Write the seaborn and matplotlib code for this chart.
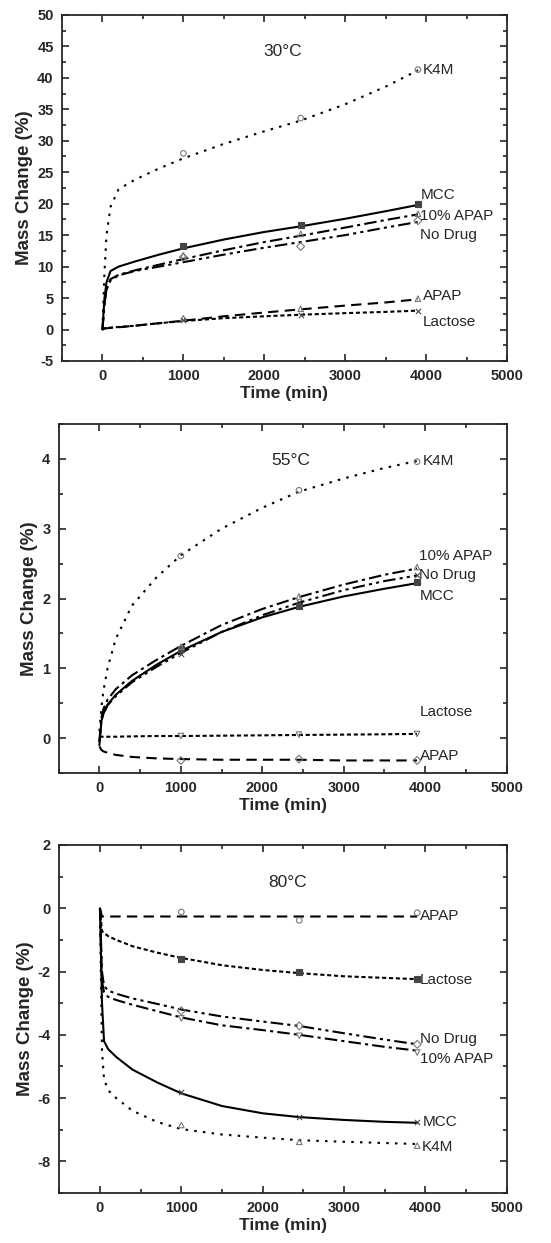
import numpy as np
import seaborn as sns
import matplotlib.pyplot as plt
from matplotlib.ticker import MultipleLocator

sns.set_style('ticks')
plt.rcParams['font.family'] = ['Liberation Sans', 'DejaVu Sans']
plt.rcParams['axes.unicode_minus'] = False

# Time grid of the fitted curves and times of the measured points
t_curve = [0, 25, 50, 100, 200, 400, 700, 1000, 1500, 2000, 2450, 3000, 3500, 3900]
t_points = [1000, 2450, 3900]

# ---- 30 C ----
k4m_30 = [0, 9, 15, 19.5, 22.3, 23.8, 25.6, 27.2, 29.5, 31.5, 33.2, 35.8, 38.6, 41.2]
mcc_30 = [0, 5, 7.5, 9.3, 10.0, 10.8, 11.9, 12.9, 14.3, 15.5, 16.4, 17.6, 18.8, 19.8]
apap10_30 = [0, 4, 6.5, 8.0, 8.7, 9.4, 10.3, 11.2, 12.6, 13.9, 14.9, 16.2, 17.4, 18.3]
nodrug_30 = [0, 4, 6.3, 7.8, 8.6, 9.3, 10.0, 10.7, 11.9, 13.0, 13.9, 15.0, 16.2, 17.1]
apap_30 = [0, 0.15, 0.2, 0.25, 0.35, 0.6, 1.0, 1.4, 2.1, 2.7, 3.2, 3.8, 4.3, 4.8]
lactose_30 = [0, 0.2, 0.25, 0.3, 0.4, 0.6, 1.0, 1.35, 1.8, 2.1, 2.35, 2.6, 2.8, 3.0]

k4m_30_pts = [28.0, 33.6, 41.3]
mcc_30_pts = [13.2, 16.6, 19.9]
apap10_30_pts = [11.8, 15.2, 18.4]
nodrug_30_pts = [11.5, 13.2, 17.3]
apap_30_pts = [1.8, 3.3, 4.9]
lactose_30_pts = [1.5, 2.3, 3.0]

# ---- 55 C ----
k4m_55 = [0.1, 0.45, 0.68, 1.0, 1.42, 1.9, 2.3, 2.62, 3.0, 3.3, 3.53, 3.72, 3.87, 3.97]
mcc_55 = [-0.1, 0.25, 0.35, 0.48, 0.62, 0.82, 1.05, 1.25, 1.52, 1.73, 1.88, 2.03, 2.14, 2.22]
apap10_55 = [-0.05, 0.3, 0.42, 0.55, 0.7, 0.9, 1.12, 1.32, 1.62, 1.85, 2.02, 2.2, 2.34, 2.43]
nodrug_55 = [-0.05, 0.25, 0.35, 0.47, 0.6, 0.8, 1.02, 1.22, 1.52, 1.76, 1.94, 2.12, 2.25, 2.33]
apap_55 = [-0.12, -0.17, -0.19, -0.21, -0.24, -0.27, -0.29, -0.3, -0.31, -0.31, -0.31, -0.32, -0.32, -0.32]
lactose_55 = [0.02, 0.02, 0.02, 0.02, 0.02, 0.025, 0.03, 0.03, 0.035, 0.04, 0.045, 0.05, 0.055, 0.06]

k4m_55_pts = [2.61, 3.55, 3.96]
mcc_55_pts = [1.27, 1.89, 2.23]
apap10_55_pts = [1.31, 2.03, 2.45]
nodrug_55_pts = [1.2, 1.95, 2.34]
apap_55_pts = [-0.32, -0.3, -0.32]
lactose_55_pts = [0.03, 0.05, 0.06]

# ---- 80 C ----
k4m_80 = [0, -4.5, -5.4, -5.75, -6.0, -6.4, -6.75, -6.98, -7.15, -7.25, -7.33, -7.38, -7.42, -7.45]
mcc_80 = [0, -3.0, -4.2, -4.45, -4.7, -5.1, -5.5, -5.85, -6.25, -6.48, -6.6, -6.69, -6.75, -6.78]
apap10_80 = [0, -2.3, -2.65, -2.8, -2.9, -3.05, -3.25, -3.45, -3.7, -3.85, -4.0, -4.2, -4.38, -4.5]
nodrug_80 = [0, -2.0, -2.45, -2.6, -2.7, -2.85, -3.02, -3.2, -3.42, -3.58, -3.72, -3.95, -4.15, -4.3]
apap_80 = [0, -0.26, -0.26, -0.26, -0.26, -0.26, -0.26, -0.26, -0.26, -0.26, -0.26, -0.26, -0.26, -0.26]
lactose_80 = [0, -0.72, -0.78, -0.88, -1.0, -1.2, -1.4, -1.57, -1.8, -1.95, -2.05, -2.15, -2.2, -2.24]

k4m_80_pts = [-6.85, -7.38, -7.5]
mcc_80_pts = [-5.8, -6.59, -6.77]
apap10_80_pts = [-3.48, -4.03, -4.56]
nodrug_80_pts = [-3.24, -3.72, -4.3]
apap_80_pts = [-0.12, -0.38, -0.14]
lactose_80_pts = [-1.59, -2.01, -2.24]

labels = ['K4M', 'MCC', '10% APAP', 'No Drug', 'APAP', 'Lactose']

# line style per formulation
styles = {
    'K4M': (0, (1.2, 3)),
    'MCC': '-',
    '10% APAP': (0, (6, 2, 1.5, 2)),
    'No Drug': (0, (6, 2, 1.5, 2, 1.5, 2)),
    'APAP': (0, (5, 3)),
    'Lactose': (0, (2, 1.3)),
}

panels = [
    {
        'title': '30°C', 'title_pos': (2230, 44.2),
        'curves': [k4m_30, mcc_30, apap10_30, nodrug_30, apap_30, lactose_30],
        'points': [k4m_30_pts, mcc_30_pts, apap10_30_pts, nodrug_30_pts, apap_30_pts, lactose_30_pts],
        'markers': ['o', 's', '^', 'D', '^', 'x'],
        'filled': [False, True, False, False, False, True],
        'label_y': [41.2, 21.3, 18.1, 15.0, 5.4, 1.2],
        'label_x': [3960, 3930, 3930, 3930, 3960, 3960],
        'ylim': (-5, 50), 'major': 5, 'minor': 2.5,
        'rect': [0.1125, 0.7096, 0.8076, 0.2784],
    },
    {
        'title': '55°C', 'title_pos': (2352, 3.98),
        'curves': [k4m_55, mcc_55, apap10_55, nodrug_55, apap_55, lactose_55],
        'points': [k4m_55_pts, mcc_55_pts, apap10_55_pts, nodrug_55_pts, apap_55_pts, lactose_55_pts],
        'markers': ['o', 's', '^', 'x', 'D', 'v'],
        'filled': [False, True, False, True, False, False],
        'label_y': [3.97, 2.04, 2.61, 2.34, -0.25, 0.37],
        'label_x': [3970, 3930, 3930, 3930, 3930, 3930],
        'ylim': (-0.5, 4.5), 'major': 1, 'minor': 0.5,
        'rect': [0.1065, 0.3781, 0.813, 0.2808],
    },
    {
        'title': '80°C', 'title_pos': (2305, 0.81),
        'curves': [k4m_80, mcc_80, apap10_80, nodrug_80, apap_80, lactose_80],
        'points': [k4m_80_pts, mcc_80_pts, apap10_80_pts, nodrug_80_pts, apap_80_pts, lactose_80_pts],
        'markers': ['^', 'x', 'v', 'D', 'o', 's'],
        'filled': [False, True, False, False, False, True],
        'label_y': [-7.56, -6.77, -4.77, -4.14, -0.24, -2.26],
        'label_x': [3950, 3970, 3930, 3930, 3930, 3930],
        'ylim': (-9, 2), 'major': 2, 'minor': 1,
        'rect': [0.1076, 0.0402, 0.812, 0.28],
    },
]

fig = plt.figure(figsize=(5.51, 12.43), dpi=100)

for p in panels:
    ax = fig.add_axes(p['rect'])
    for name, curve, pts, mk, filled in zip(labels, p['curves'], p['points'], p['markers'], p['filled']):
        sns.lineplot(x=t_curve, y=curve, ax=ax, color='black', lw=1.5,
                     linestyle=styles[name], sort=False)
        if filled:
            sns.scatterplot(x=t_points, y=pts, ax=ax, marker=mk, s=14,
                            color='#444444', edgecolor='#444444', linewidth=0.8, zorder=3)
        else:
            sns.scatterplot(x=t_points, y=pts, ax=ax, marker=mk, s=16,
                            facecolor='none', edgecolor='#777777', linewidth=0.8, zorder=3)
    for name, lx, ly in zip(labels, p['label_x'], p['label_y']):
        ax.text(lx, ly, name, fontsize=11, va='center', ha='left')
    ax.text(p['title_pos'][0], p['title_pos'][1], p['title'], fontsize=12.5,
            ha='center', va='center')

    ax.set_xlim(-500, 5000)
    ax.set_ylim(*p['ylim'])
    ax.xaxis.set_major_locator(MultipleLocator(1000))
    ax.xaxis.set_minor_locator(MultipleLocator(500))
    ax.yaxis.set_major_locator(MultipleLocator(p['major']))
    ax.yaxis.set_minor_locator(MultipleLocator(p['minor']))
    ax.tick_params(which='both', direction='in', top=True, right=True, width=1.2)
    ax.tick_params(which='major', length=5, labelsize=10.5, pad=6)
    ax.tick_params(which='minor', length=3)
    for lab in ax.get_xticklabels() + ax.get_yticklabels():
        lab.set_fontweight('bold')
    for sp in ax.spines.values():
        sp.set_linewidth(1.3)
    ax.set_xlabel('Time (min)', fontsize=12.5, fontweight='bold', labelpad=2)
    ax.set_ylabel('Mass Change (%)', fontsize=13.5, fontweight='bold', labelpad=3)

fig.savefig('out.png', dpi=100)
